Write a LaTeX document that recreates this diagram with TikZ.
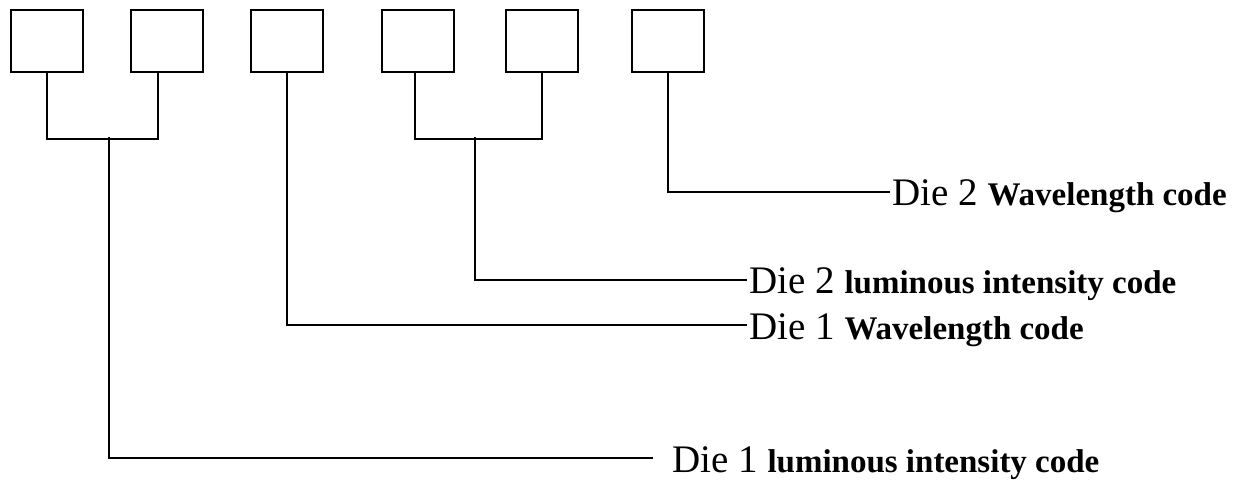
\documentclass[tikz,border=0pt]{standalone}
\usepackage{fontspec}
\setmainfont{Liberation Serif}
\begin{document}
\begin{tikzpicture}[x=1pt,y=-1pt,
  chip/.style={draw, line width=2pt, minimum width=72pt, minimum height=62pt, inner sep=0pt, anchor=north west},
  wire/.style={line width=1.5pt},
  codelabel/.style={anchor=west, inner xsep=2pt, inner ysep=0pt, text height=28pt, text depth=0pt, font=\fontsize{39}{40}\selectfont},
  bold/.style={font=\fontsize{33}{34}\selectfont\bfseries}
]
\useasboundingbox (0,0) rectangle (1243,481);
% boxes
\node[chip] (b1) at (10,9) {};
\node[chip] (b2) at (130,9) {};
\node[chip] (b3) at (250,9) {};
\node[chip] (b4) at (381,9) {};
\node[chip] (b5) at (505,9) {};
\node[chip] (b6) at (631,9) {};
% labels
\node[codelabel] (l1) at (890,192) {Die 2 {\fontsize{33}{34}\selectfont\bfseries Wavelength code}};
\node[codelabel] (l2) at (747,280) {Die 2 {\fontsize{33}{34}\selectfont\bfseries luminous intensity code}};
\node[codelabel] (l3) at (747,325) {Die 1 {\fontsize{33}{34}\selectfont\bfseries Wavelength code}};
\node[codelabel] (l4) at (653,458) {\hspace*{17pt}Die 1 {\fontsize{33}{34}\selectfont\bfseries luminous intensity code}};
% junctions
\coordinate (j12) at (109,137);
\coordinate (j45) at (475,137);
% connectors
\draw[wire] (b1.south) -- ++(0,66) -| ([xshift=-9pt]b2.south);
\draw[wire] ([xshift=-3pt]b4.south) -- ++(0,66) -| (b5.south);
\draw[wire] (j12) |- (l4.west);
\draw[wire] (j45) |- (l2.west);
\draw[wire] (b3.south) |- (l3.west);
\draw[wire] (b6.south) |- (l1.west);
\end{tikzpicture}
\end{document}
